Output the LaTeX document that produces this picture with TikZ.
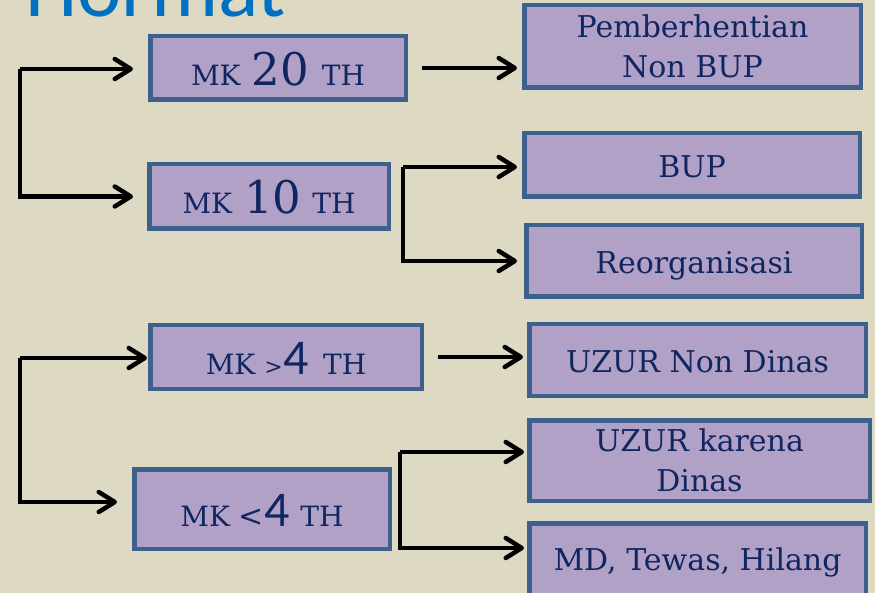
\documentclass[tikz,border=0pt]{standalone}
\usepackage{fontspec}
\setmainfont{DejaVu Serif}
\newfontfamily\titlefont{Carlito}
\usetikzlibrary{arrows.meta,calc}
\definecolor{bgc}{RGB}{221,217,195}
\definecolor{boxc}{RGB}{178,161,199}
\definecolor{bordc}{RGB}{62,96,140}
\definecolor{txtc}{RGB}{16,38,96}
\definecolor{titc}{RGB}{0,112,192}
\newcommand\mybox[7][]{%
  \node[box,#1,minimum width={#5pt-#3pt-4.5pt},minimum height={#6pt-#4pt-4.5pt}]
    (#2) at ({(#3+#5)/2},{(#4+#6)/2}) {#7};}
\newcommand\bignum[1]{{\fontsize{45}{45}\selectfont #1}}
\newcommand\sansfour{{\titlefont\fontsize{50}{50}\selectfont 4}}
\newcommand\mkfont{\fontsize{28}{28}\selectfont}
\tikzset{
  box/.style={draw=bordc, fill=boxc, line width=4.5pt, text=txtc,
    font=\fontsize{30}{40}\selectfont, align=center, inner sep=0pt,
    outer sep=2.25pt},
  onel/.style={text height=25pt, text depth=0pt},
  mkl/.style={text height=35pt, text depth=0pt},
  arr/.style={draw=black, line width=4.5pt,
    -{Straight Barb[length=16pt,width=20pt,round]}},
}
\begin{document}
\begin{tikzpicture}[x=1pt,y=-1pt]
\fill[bgc] (0,0) rectangle (875,593);
\useasboundingbox (0,0) rectangle (875,593);
\node[anchor=base west, text=titc, font=\titlefont\fontsize{84}{84}\selectfont,
  inner sep=0pt] (title) at (25,17) {Hormat};
% boxes
\mybox[mkl]{mk20}{148}{34}{408}{102}{\mkfont MK\hspace{11pt}\bignum{20}\hspace{13pt}TH}
\mybox{pemb}{522}{3}{863}{90}{Pemberhentian\\Non BUP}
\mybox[mkl]{mk10}{147}{162}{391}{231}{\mkfont MK\hspace{12pt}\bignum{10}\hspace{11pt}TH}
\mybox[onel]{bup}{522}{131}{862}{199}{BUP}
\mybox[onel]{reorg}{524}{223}{864}{299}{Reorganisasi}
\mybox[mkl]{mkgt}{148}{323}{424}{391}{\mkfont MK\hspace{9pt}{\fontsize{22}{22}\selectfont >}\hspace{1pt}\sansfour\hspace{14pt}TH}
\mybox[mkl]{mklt}{132}{467}{392}{551}{\mkfont MK\hspace{8pt}{\fontsize{30}{30}\selectfont <}\hspace{1pt}\sansfour\hspace{11pt}TH}
\mybox[onel]{uzurnd}{527}{322}{868}{398}{UZUR Non Dinas}
\mybox{uzurkd}{527}{418}{872}{503}{UZUR karena\\Dinas}
\mybox[text height=20pt,text depth=0pt]{md}{527}{521}{868}{600}{MD, Tewas, Hilang}
% connectors
\coordinate (p1) at (20,69);
\draw[arr, shorten >=15pt] (p1) -- (p1 -| mk20.west);
\draw[arr, shorten >=14pt] (p1) |- (mk10.west);
\draw[arr, shorten <=14pt, shorten >=5pt] (mk20.east) -- (mk20.east -| pemb.west);
\coordinate (p2) at (403,167);
\draw[arr, shorten >=5pt] (p2) -- (p2 -| bup.west);
\draw[arr, shorten >=7pt] (p2) |- (reorg.west);
\draw[arr, shorten <=14pt, shorten >=4pt] (mkgt.east) -- (mkgt.east -| uzurnd.west);
\coordinate (p3) at (20,358);
\draw[arr, shorten >=1pt] (p3) -- (p3 -| mkgt.west);
\draw[arr, shorten >=15pt] (p3) |- ($(mklt.west)+(0,-7)$);
\coordinate (p5) at (400,452);
\draw[arr, shorten >=3pt] (p5) -- (p5 -| uzurkd.west);
\draw[arr, shorten >=3pt] (p5) |- ($(md.west)+(0,-12.5)$);
\end{tikzpicture}
\end{document}
